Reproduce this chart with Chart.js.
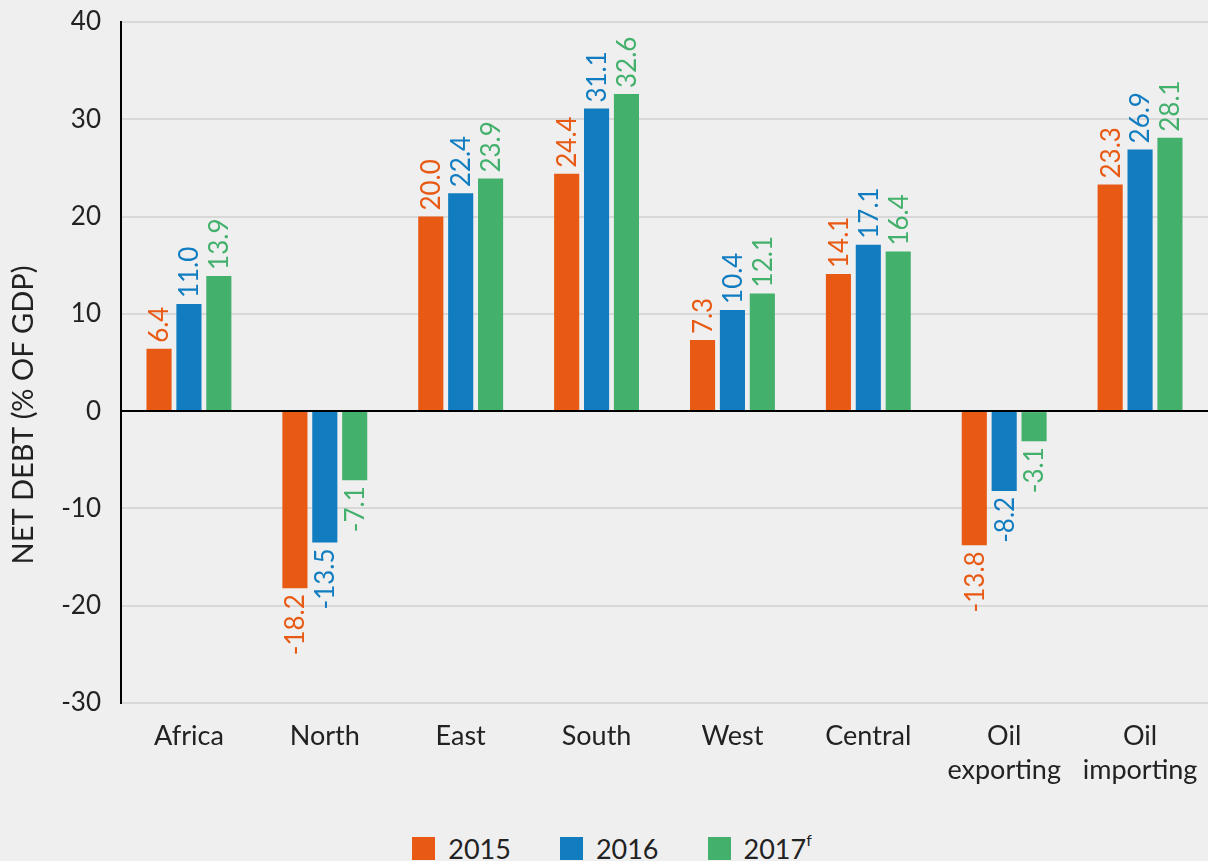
<!DOCTYPE html>
<html>
<head>
<meta charset="utf-8">
<script src="https://cdn.jsdelivr.net/npm/chart.js@4/dist/chart.umd.min.js"></script>
<style>
  html, body { margin: 0; padding: 0; background: #efefef; }
  #wrap { position: relative; width: 1208px; height: 861px; }
  #legend {
    position: absolute; left: 8px; width: 1208px; top: 832px;
    display: flex; justify-content: center; gap: 49px;
    font-family: Lato, sans-serif; font-size: 27px; color: #222;
  }
  #legend span.item { display: flex; align-items: center; }
  #legend span.box { width: 23px; height: 23px; margin-right: 13px; display: inline-block; }
  #legend sup { font-size: 16px; position: relative; top: -9px; }
</style>
</head>
<body>
<div id="wrap">
  <canvas id="chart" width="1208" height="795"></canvas>
  <div id="legend">
    <span class="item"><span class="box" style="background:#e85a14"></span>2015</span>
    <span class="item"><span class="box" style="background:#117dc0"></span>2016</span>
    <span class="item"><span class="box" style="background:#43b06c"></span>2017<sup>f</sup></span>
  </div>
</div>
<script>
const categories = ['Africa', 'North', 'East', 'South', 'West', 'Central', ['Oil', 'exporting'], ['Oil', 'importing']];
const years = ['2015', '2016', '2017f'];
const debt2015 = [6.4, -18.2, 20.0, 24.4, 7.3, 14.1, -13.8, 23.3];
const debt2016 = [11.0, -13.5, 22.4, 31.1, 10.4, 17.1, -8.2, 26.9];
const debt2017 = [13.9, -7.1, 23.9, 32.6, 12.1, 16.4, -3.1, 28.1];
const colors = ['#e85a14', '#117dc0', '#43b06c'];
const yTitle = 'NET DEBT (% OF GDP)';

// rotated value labels above / below each bar
const barLabels = {
    id: 'barLabels',
    afterDatasetsDraw(chart) {
        const ctx = chart.ctx;
        ctx.save();
        ctx.font = '26px Lato, sans-serif';
        ctx.textBaseline = 'middle';
        chart.data.datasets.forEach((ds, i) => {
            chart.getDatasetMeta(i).data.forEach((bar, j) => {
                const v = ds.data[j];
                ctx.save();
                ctx.fillStyle = ds.backgroundColor;
                if (v >= 0) {
                    ctx.translate(bar.x, bar.y - 6);
                    ctx.rotate(-Math.PI / 2);
                    ctx.textAlign = 'left';
                } else {
                    ctx.translate(bar.x, bar.y + 6);
                    ctx.rotate(-Math.PI / 2);
                    ctx.textAlign = 'right';
                }
                ctx.fillText(v.toFixed(1), 0, 1);
                ctx.restore();
            });
        });
        ctx.restore();
    }
};

// y axis title, set a bit below the axis middle like the original
const axisTitle = {
    id: 'axisTitle',
    afterDraw(chart) {
        const ctx = chart.ctx;
        ctx.save();
        ctx.font = '29px Lato, sans-serif';
        ctx.fillStyle = '#222';
        ctx.textAlign = 'center';
        ctx.textBaseline = 'middle';
        ctx.translate(24, 415);
        ctx.rotate(-Math.PI / 2);
        ctx.fillText(yTitle, 0, 0);
        ctx.restore();
    }
};

new Chart(document.getElementById('chart'), {
    type: 'bar',
    data: {
        labels: categories,
        datasets: [
            { label: years[0], data: debt2015, backgroundColor: colors[0] },
            { label: years[1], data: debt2016, backgroundColor: colors[1] },
            { label: years[2], data: debt2017, backgroundColor: colors[2] }
        ]
    },
    options: {
        responsive: false,
        animation: false,
        layout: { autoPadding: false, padding: { top: 22, right: 0, left: 0, bottom: 0 } },
        datasets: { bar: { categoryPercentage: 0.66, barPercentage: 0.84 } },
        plugins: {
            legend: { display: false },
            tooltip: { enabled: false }
        },
        scales: {
            x: {
                grid: { display: false },
                border: { display: false },
                ticks: {
                    color: '#222',
                    font: { family: 'Lato, sans-serif', size: 27, lineHeight: 1.26 },
                    padding: 8,
                    maxRotation: 0
                }
            },
            y: {
                min: -30,
                max: 40,
                afterFit: scale => {
                    scale.width = 121;
                    scale.paddingTop = 0;
                    scale.paddingBottom = 0;
                },
                ticks: {
                    stepSize: 10,
                    color: '#222',
                    font: { family: 'Lato, sans-serif', size: 26 },
                    padding: 20
                },
                border: { display: true, color: '#000', width: 2 },
                grid: {
                    drawTicks: false,
                    color: ctx => ctx.tick.value === 0 ? '#000' : '#d8d8d8',
                    lineWidth: 2
                }
            }
        }
    },
    plugins: [barLabels, axisTitle]
});
</script>
</body>
</html>
